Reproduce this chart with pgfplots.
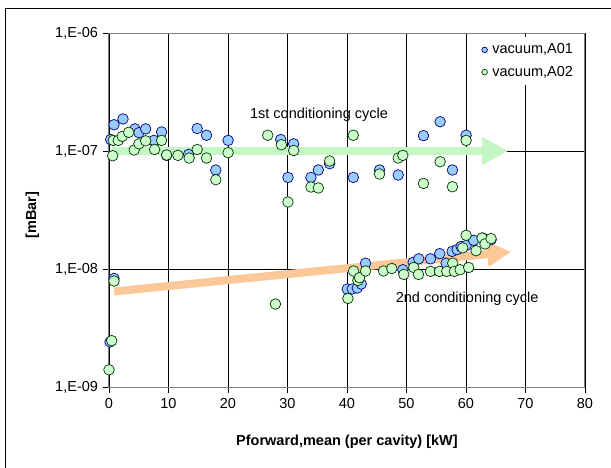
\documentclass[border=0pt]{standalone}
\usepackage{pgfplots}
\pgfplotsset{compat=1.18}
\usepackage{fontspec}
\setmainfont{Liberation Sans}
\usetikzlibrary{arrows.meta}
\definecolor{bluefill}{HTML}{99CCFF}
\definecolor{blueedge}{HTML}{000080}
\definecolor{greenfill}{HTML}{CCFFCC}
\definecolor{greenedge}{HTML}{003300}
\definecolor{arrgreen}{HTML}{C4F7C4}
\definecolor{arrorange}{HTML}{FCC897}
\definecolor{axgray}{HTML}{808080}
\begin{document}
\fontsize{14.5}{17}\selectfont
\begin{tikzpicture}
\path[use as bounding box] (0,0) rectangle (611pt,468pt);
\draw[black, line width=0.8pt] (5.8pt,-20pt) rectangle (640pt,459.4pt);
\begin{axis}[
  at={(109pt,81pt)}, anchor=south west,
  scale only axis, width=476pt, height=354pt,
  xmin=0, xmax=80, ymin=1e-9, ymax=1e-6, ymode=log,
  xtick={0,10,...,80}, ytick={1e-9,1e-8,1e-7,1e-6},
  yticklabels={{1,E-09},{1,E-08},{1,E-07},{1,E-06}},
  yminorticks=false,
  /pgf/number format/assume math mode=true,
  xmajorgrids, ymajorgrids, grid style={black, line width=0.6pt},
  axis line style={axgray, line width=1pt},
  tick align=outside, major tick length=6pt, tick style={black, line width=0.6pt},
  xtick pos=bottom, ytick pos=left,
  clip=false,
  xlabel={\bfseries Pforward,mean (per cavity) [kW]},
  ylabel={\bfseries [mBar]},
  x label style={at={(axis description cs:0.5,-0.155)}, anchor=center},
  y label style={at={(axis description cs:-0.161,0.486)}, anchor=center, rotate=0},
  legend style={at={(0.99,0.99)}, anchor=north east, draw=none, fill=white,
    row sep=6pt, inner xsep=5pt, inner ysep=5pt, font=\fontsize{14.5}{17}\selectfont,
    /tikz/every odd column/.append style={column sep=3pt}},
  legend cell align=left,
  legend image code/.code={\draw[#1, mark size=2.8pt, line width=0.5pt] plot coordinates {(0pt,0pt)};},
]
% arrows
\addplot[forget plot, arrgreen, line width=7.5pt, line cap=butt, -{Triangle[width=26pt,length=26pt]}] coordinates {(0.5,1e-7) (67.1,1e-7)};
\addplot[forget plot, arrorange, line width=8pt, line cap=butt, -{Triangle[width=24pt,length=24pt]}] coordinates {(0.84,6.45e-9) (67.6,1.40e-8)};
% A01
\addplot[only marks, mark=*, mark size=5.3pt, mark options={fill=bluefill, draw=blueedge, line width=0.7pt}] table {
x y
0.84 1.67e-7
2.35 1.87e-7
0.29 1.25e-7
4.36 1.54e-7
5.03 1.43e-7
6.16 1.54e-7
7.55 1.23e-7
8.84 1.45e-7
9.68 9.18e-8
13.37 9.35e-8
14.82 1.55e-7
16.39 1.36e-7
17.95 6.90e-8
20.02 1.23e-7
28.86 1.25e-7
31.04 1.15e-7
30.08 5.97e-8
33.94 5.97e-8
35.18 6.90e-8
37.08 7.80e-8
41.06 5.97e-8
45.47 6.90e-8
48.61 6.26e-8
52.85 1.35e-7
55.65 1.77e-7
57.72 6.90e-8
60.02 1.36e-7
0.84 8.32e-9
0.17 2.41e-9
40.05 6.77e-9
40.89 6.77e-9
41.73 6.90e-9
42.40 7.46e-9
43.12 1.12e-8
49.38 9.86e-9
51.12 1.14e-8
52.06 1.22e-8
54.03 1.22e-8
55.59 1.35e-8
56.66 1.12e-8
57.67 1.41e-8
58.51 1.46e-8
59.18 1.55e-8
60.02 1.58e-8
61.29 1.75e-8
62.80 1.83e-8
64.21 1.77e-8
};
\addlegendentry{vacuum,A01}
% A02
\addplot[only marks, mark=*, mark size=5.3pt, mark options={fill=greenfill, draw=greenedge, line width=0.7pt}] table {
x y
0.62 9.12e-8
0.72 1.23e-7
1.56 1.23e-7
2.23 1.33e-7
3.31 1.44e-7
4.24 1.02e-7
5.03 1.15e-7
6.16 1.22e-7
7.67 1.03e-7
8.84 1.23e-7
9.68 9.25e-8
11.58 9.18e-8
13.47 8.72e-8
14.82 1.03e-7
16.39 8.72e-8
17.95 5.71e-8
20.02 9.68e-8
26.68 1.36e-7
28.98 1.13e-7
31.04 1.01e-7
30.08 3.70e-8
33.94 4.95e-8
35.18 4.86e-8
37.08 8.23e-8
41.06 1.36e-7
45.47 6.38e-8
48.61 8.72e-8
49.38 9.18e-8
52.85 5.31e-8
55.65 8.11e-8
57.72 4.98e-8
60.02 1.23e-7
0.84 7.91e-9
0.45 2.47e-9
0.00 1.40e-9
27.97 5.05e-9
40.15 5.63e-9
41.10 9.62e-9
41.83 8.00e-9
42.11 8.44e-9
43.12 9.62e-9
46.14 9.62e-9
47.53 1.01e-8
49.55 9.00e-9
51.22 1.03e-8
52.01 9.00e-9
54.03 9.55e-9
55.54 9.55e-9
56.76 9.55e-9
57.77 1.12e-8
58.05 9.55e-9
59.01 9.86e-9
60.45 1.03e-8
60.02 1.93e-8
59.45 1.51e-8
61.69 1.43e-8
62.70 1.83e-8
63.20 1.63e-8
64.21 1.81e-8
};
\addlegendentry{vacuum,A02}
\node at (axis cs:35.3,2.03e-7) {1st conditioning cycle};
\node at (axis cs:60.2,5.6e-9) {2nd conditioning cycle};
\end{axis}
\end{tikzpicture}
\end{document}
